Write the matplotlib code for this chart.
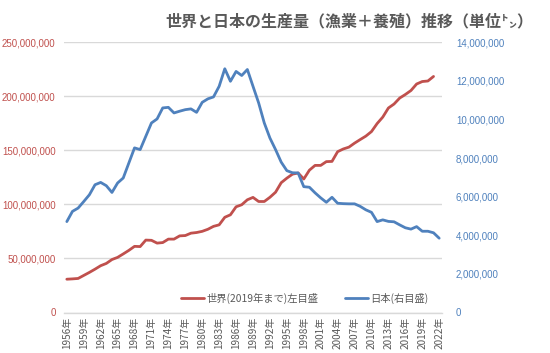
import matplotlib
matplotlib.use("Agg")
import matplotlib.pyplot as plt
from matplotlib.ticker import FuncFormatter, MultipleLocator

years = list(range(1956, 2023))

# World production (million t), 1956-2021, left axis
world = [30.8, 31.1, 31.5, 34.3, 37.1, 40.1, 43.3, 45.4, 49.0, 51.0,
         54.2, 57.5, 61.2, 61.0, 67.0, 66.8, 64.2, 64.7, 67.9, 67.9,
         70.9, 71.2, 73.4, 74.0, 75.1, 77.0, 79.7, 81.1, 88.1, 90.4,
         97.8, 99.7, 104.3, 106.5, 102.7, 102.7, 106.6, 111.3, 120.1, 124.3,
         128.0, 129.1, 123.5, 131.7, 136.1, 136.1, 139.6, 139.8, 148.8, 151.3,
         153.0, 156.7, 160.0, 163.2, 167.4, 174.8, 180.8, 189.2, 192.9, 198.4,
         201.7, 205.4, 211.4, 213.7, 214.2, 218.4]

# Japan production (million t), 1956-2022, right axis
japan = [4.71, 5.24, 5.41, 5.75, 6.10, 6.62, 6.74, 6.57, 6.22, 6.71,
         6.97, 7.75, 8.53, 8.44, 9.13, 9.82, 10.03, 10.60, 10.63, 10.34,
         10.43, 10.51, 10.55, 10.37, 10.89, 11.07, 11.17, 11.72, 12.63, 11.98,
         12.49, 12.28, 12.59, 11.72, 10.86, 9.82, 9.04, 8.44, 7.79, 7.35,
         7.24, 7.23, 6.52, 6.49, 6.20, 5.94, 5.71, 5.97, 5.66, 5.64,
         5.63, 5.63, 5.50, 5.32, 5.19, 4.71, 4.80, 4.72, 4.70, 4.54,
         4.39, 4.32, 4.45, 4.21, 4.21, 4.13, 3.85]

tick_years = years[::3]
tick_labels = [f"{y}年" for y in tick_years]

title_main = "世界と日本の生産量（漁業＋養殖）推移（単位㌧）"
label_world = "世界(2019年まで)左目盛"
label_japan = "日本(右目盛)"

RED = "#C0504D"
BLUE = "#4F81BD"
GRAY = "#595959"
GRID = "#D9D9D9"
CJK = ["Noto Sans CJK JP", "DejaVu Sans"]
NUMF = ["Liberation Sans", "DejaVu Sans"]

plt.rcParams["font.family"] = CJK

fig = plt.figure(figsize=(5.5, 3.53), dpi=100)
ax = fig.add_axes([64/550, 1-312.5/353, (442-64)/550, (312.5-42.3)/353])
ax2 = ax.twinx()

x_world = list(range(len(world)))
x_japan = list(range(len(japan)))
w = [v * 1e6 for v in world]
j = [v * 1e6 for v in japan]

lw_, = ax.plot(x_world, w, color=RED, lw=2.0, solid_capstyle="round", zorder=3)
lj_, = ax2.plot(x_japan, j, color=BLUE, lw=2.0, solid_capstyle="round", zorder=3)

ax.set_xlim(-0.5, len(years) - 0.5)
ax.set_ylim(0, 250e6)
ax2.set_ylim(0, 14e6)
ax.yaxis.set_major_locator(MultipleLocator(50e6))
ax2.yaxis.set_major_locator(MultipleLocator(2e6))
fmt = FuncFormatter(lambda v, p: f"{int(round(v)):,}")
ax.yaxis.set_major_formatter(fmt)
ax2.yaxis.set_major_formatter(fmt)

ax.set_xticks([years.index(y) for y in tick_years])
ax.set_xticklabels(tick_labels, rotation=90, fontsize=7.2, color=GRAY,
                   family=CJK)
ax.tick_params(axis="x", length=0, pad=3)

ax.grid(axis="y", color=GRID, lw=1.0)
ax.set_axisbelow(True)
for a in (ax, ax2):
    for s in ("left", "right", "top"):
        a.spines[s].set_visible(False)
ax2.spines["bottom"].set_visible(False)
ax.spines["bottom"].set_color(GRID)
ax.spines["bottom"].set_linewidth(1.0)

ax.tick_params(axis="y", length=0, pad=6, labelsize=7, labelcolor=RED)
ax2.tick_params(axis="y", length=0, pad=10, labelsize=7, labelcolor=BLUE)
for t in ax.get_yticklabels() + ax2.get_yticklabels():
    t.set_family(NUMF)

leg = fig.legend([lw_, lj_], [label_world, label_japan], loc="center",
                 bbox_to_anchor=(305/550, 1-298/353), ncol=2, frameon=False,
                 prop={"family": CJK, "size": 7.4}, labelcolor=GRAY,
                 handlelength=2.2, handletextpad=0.25, columnspacing=2.6)

fig.text(533/550, 1-21/353, title_main, ha="right", va="center",
         fontsize=11.5, color=GRAY, fontweight="bold", family=CJK)

fig.savefig("out.png", dpi=100)
